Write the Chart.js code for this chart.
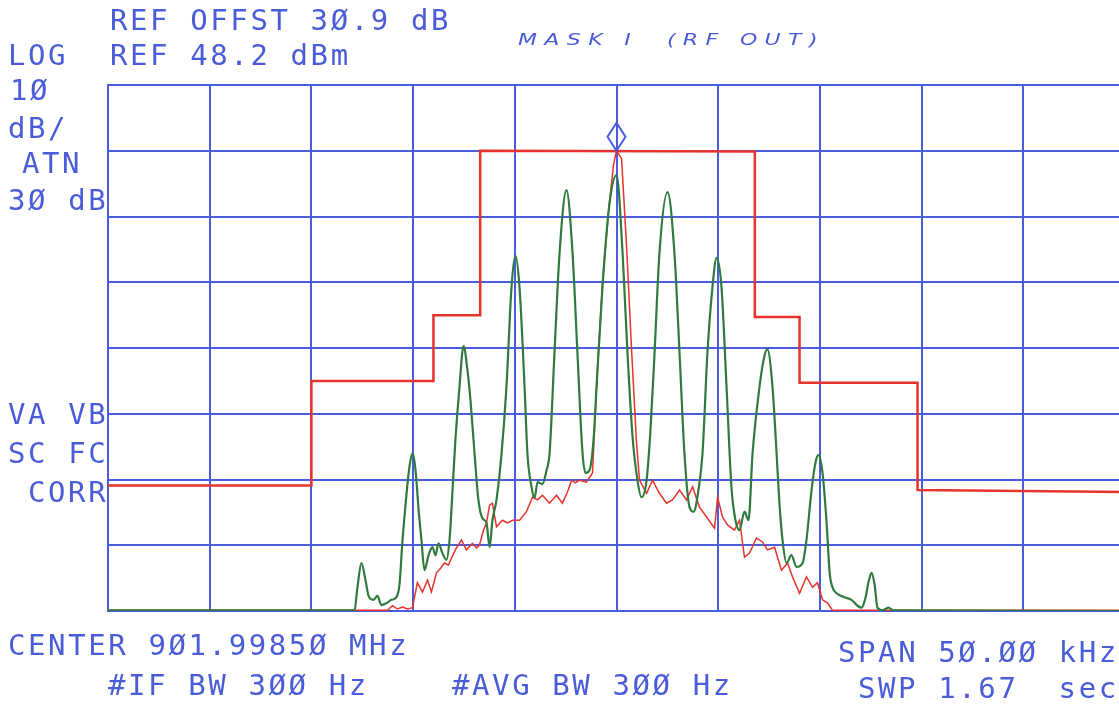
<!DOCTYPE html>
<html>
<head>
<meta charset="utf-8">
<title>MASK I (RF OUT)</title>
<script src="https://cdn.jsdelivr.net/npm/chart.js@4.4.1/dist/chart.umd.min.js"></script>
<style>
  html, body { margin: 0; padding: 0; background: #fff; overflow: hidden; }
  #wrap { position: relative; width: 1119px; height: 707px; overflow: hidden; background: #fff; }
  #chart { position: absolute; left: 0; top: 0; }
  .lbl {
    position: absolute;
    font-family: "DejaVu Sans Mono", monospace;
    font-size: 29px;
    line-height: 1;
    letter-spacing: 2.6px;
    color: #4a5cd8;
    white-space: pre;
  }
  .note {
    position: absolute;
    left: 518px;
    top: 30px;
    font-family: "DejaVu Sans", sans-serif;
    font-style: italic;
    font-size: 21px;
    line-height: 1;
    letter-spacing: 7px;
    color: #4a5cd8;
    white-space: pre;
    transform-origin: left center;
    transform: scale(1.05, 0.72);
  }
</style>
</head>
<body>
<div id="wrap">
  <canvas id="chart" width="1140" height="707"></canvas>

  <div class="lbl" style="left:110px; top:6px">REF OFFST 3Ø.9 dB</div>
  <div class="lbl" style="left:8px; top:41px">LOG</div>
  <div class="lbl" style="left:110px; top:41px">REF 48.2 dBm</div>
  <div class="lbl" style="left:10px; top:76px">1Ø</div>
  <div class="lbl" style="left:8px; top:114px">dB/</div>
  <div class="lbl" style="left:22px; top:149px">ATN</div>
  <div class="lbl" style="left:8px; top:186px">3Ø dB</div>
  <div class="lbl" style="left:8px; top:400px">VA VB</div>
  <div class="lbl" style="left:8px; top:439px">SC FC</div>
  <div class="lbl" style="left:28px; top:478px">CORR</div>
  <div class="lbl" style="left:8px; top:631px">CENTER 9Ø1.9985Ø MHz</div>
  <div class="lbl" style="left:108px; top:671px">#IF BW 3ØØ Hz</div>
  <div class="lbl" style="left:452px; top:671px">#AVG BW 3ØØ Hz</div>
  <div class="lbl" style="left:838px; top:638px">SPAN 5Ø.ØØ kHz</div>
  <div class="lbl" style="left:858px; top:674px">SWP 1.67  sec</div>
  <div class="note">MASK I  (RF OUT)</div>
</div>

<script>
// display settings of the analyzer
const refLevel = 48.2;   // dBm at top graticule
const dbPerDiv = 10;
const vertDivs = 8;
const spanKHz = 50;
const horizDivs = 10;

// emission mask (kHz offset from center, dBm)
const maskFreq = [-25, -15, -15, -9, -9, -6.7, -6.7, 6.8, 6.8, 9, 9, 14.8, 14.8, 25];
const maskLevel = [-12.7, -12.7, 3.2, 3.2, 13.2, 13.2, 38.2, 38.1, 12.9, 12.9, 2.9, 2.9, -13.4, -13.7];

// trace A: modulated carrier (red, noisy skirt)
const redFreq = [-25, -11.26, -11.01, -10.77, -10.52, -10.28, -10.03, -9.79, -9.54, -9.29,
  -9.10, -8.85, -8.65, -8.46, -8.26, -8.11, -7.87, -7.62, -7.38, -7.08,
  -6.88, -6.74, -6.54, -6.39, -6.24, -6.10, -5.90, -5.61, -5.36, -5.11,
  -4.77, -4.43, -4.13, -3.88, -3.64, -3.29, -2.95, -2.66, -2.41, -2.21,
  -2.02, -1.82, -1.48, -1.28, -1.18, -0.98, -0.69, -0.39, -0.15, 0,
  0.25, 0.49, 0.74, 0.98, 1.13, 1.48, 1.77, 2.11, 2.46, 2.75,
  3.10, 3.44, 3.74, 4.08, 4.43, 4.82, 4.97, 5.21, 5.46, 5.80,
  6.05, 6.29, 6.54, 6.88, 7.18, 7.42, 7.77, 8.11, 8.41, 8.65,
  9.00, 9.34, 9.64, 9.88, 10.13, 10.38, 10.62, 25];
const redLevel = [-31.7, -31.7, -31.0, -31.5, -31.2, -31.5, -31.3, -27.5, -28.9, -27.1,
  -28.9, -26.0, -25.3, -24.5, -24.8, -23.7, -22.2, -21.0, -22.5, -21.5,
  -22.2, -21.8, -19.5, -18.4, -15.7, -15.4, -19.0, -18.0, -18.4, -18.0,
  -18.0, -16.7, -14.5, -14.9, -14.2, -15.4, -14.2, -15.4, -13.7, -11.9,
  -12.3, -11.9, -12.2, -11.3, -10.8, 2.5, 18.0, 29.0, 36.0, 38.2,
  37.0, 24.0, 8.0, -6.0, -11.9, -13.9, -11.9, -13.9, -15.4, -14.9,
  -13.4, -14.9, -12.9, -16.0, -17.5, -19.2, -14.5, -17.5, -18.7, -19.5,
  -18.0, -23.6, -23.0, -20.7, -21.3, -22.5, -22.1, -25.6, -24.5, -26.6,
  -29.1, -26.6, -28.2, -27.5, -30.1, -30.6, -31.7, -31.7];

// trace B: comb of discrete lines (green)
const greenFreq = [-25, -12.88, -12.74, -12.54, -12.34, -12.19, -11.95, -11.75, -11.56, -11.31,
  -11.06, -10.82, -10.67, -10.52, -10.33, -10.18, -10.03, -9.88, -9.73, -9.59,
  -9.44, -9.24, -9.05, -8.90, -8.75, -8.56, -8.36, -8.21, -8.06, -7.92,
  -7.72, -7.52, -7.33, -7.18, -6.98, -6.79, -6.59, -6.39, -6.24, -6.10,
  -5.90, -5.65, -5.41, -5.16, -4.97, -4.77, -4.52, -4.38, -4.18, -4.03,
  -3.88, -3.64, -3.44, -3.29, -3.05, -2.80, -2.46, -2.16, -1.92, -1.67,
  -1.52, -1.33, -1.13, -0.98, -0.69, -0.34, 0, 0.30, 0.54, 0.79,
  1.03, 1.23, 1.48, 1.67, 1.87, 2.11, 2.51, 2.85, 3.10, 3.34,
  3.59, 3.79, 4.03, 4.23, 4.47, 4.72, 4.92, 5.16, 5.41, 5.65,
  5.85, 6.05, 6.29, 6.49, 6.69, 7.03, 7.28, 7.42, 7.67, 7.87,
  8.01, 8.16, 8.36, 8.60, 8.85, 9.15, 9.34, 9.59, 9.79, 9.93,
  10.13, 10.33, 10.48, 10.62, 10.82, 11.21, 11.55, 11.85, 12.05, 12.24,
  12.39, 12.54, 12.69, 12.83, 13.08, 13.37, 13.62, 25];
const greenLevel = [-31.7, -31.7, -28.3, -24.5, -27.1, -29.5, -30.1, -29.5, -30.9, -30.6,
  -30.1, -29.7, -27.8, -21.0, -14.2, -9.9, -7.8, -10.4, -16.4, -21.0,
  -25.6, -23.3, -22.1, -23.3, -21.5, -23.0, -24.0, -21.0, -13.4, -5.8,
  2.3, 8.5, 4.9, 0.3, -7.8, -14.9, -17.7, -18.4, -22.1, -18.0,
  -14.9, -7.8, 2.3, 17.5, 22.2, 17.5, 2.3, -7.8, -12.9, -14.6,
  -12.2, -12.5, -10.4, -7.8, 7.4, 22.6, 32.2, 22.6, 7.4, -7.8,
  -10.8, -10.4, -5.8, 2.3, 17.5, 30.3, 34.5, 22.6, 7.4, -5.3,
  -11.9, -14.5, -11.9, -4.3, 7.4, 22.6, 31.9, 22.6, 7.4, -7.8,
  -16.0, -16.7, -13.4, -7.8, 7.4, 17.5, 21.9, 17.5, 2.3, -12.9,
  -18.0, -19.5, -16.7, -18.0, -7.8, 2.3, 7.1, 8.0, 2.3, -7.8,
  -15.4, -21.0, -24.5, -23.3, -25.1, -24.5, -21.0, -13.4, -9.1, -8.1,
  -10.8, -18.4, -26.0, -28.2, -29.1, -29.7, -30.1, -31.0, -31.3, -29.8,
  -27.4, -26.0, -27.8, -31.3, -31.7, -31.3, -31.7, -31.8];

// marker on the carrier peak
const markerFreq = 0;
const markerLevel = 38.2;

const penBlue = "#4a5ce0";
const penRed = "#e8322c";
const penGreen = "#2f7a3c";

function toPoints(xs, ys) {
  return xs.map((x, i) => ({ x: x, y: ys[i] }));
}

// graticule lines every division, from the bottom edge up to the ref level
const bottomLevel = refLevel - dbPerDiv * vertDivs;
const levelTicks = [];
for (let i = 0; i <= vertDivs; i++) levelTicks.push(bottomLevel + i * dbPerDiv);

// diamond marker drawn above the marked point
const markerPlugin = {
  id: "markerDiamond",
  afterDatasetsDraw(chart) {
    const { ctx, scales } = chart;
    const px = scales.x.getPixelForValue(markerFreq);
    const py = scales.y.getPixelForValue(markerLevel);
    ctx.save();
    ctx.strokeStyle = penBlue;
    ctx.lineWidth = 2;
    ctx.beginPath();
    ctx.moveTo(px, py);
    ctx.lineTo(px + 9, py - 14);
    ctx.lineTo(px, py - 28);
    ctx.lineTo(px - 9, py - 14);
    ctx.closePath();
    ctx.stroke();
    ctx.restore();
  },
};

function renderSpectrum(canvas) {
  return new Chart(canvas.getContext("2d"), {
    type: "line",
    data: {
      datasets: [
        {
          data: toPoints(greenFreq, greenLevel),
          borderColor: penGreen,
          borderWidth: 2.2,
          pointRadius: 0,
          cubicInterpolationMode: "monotone",
        },
        {
          data: toPoints(redFreq, redLevel),
          borderColor: penRed,
          borderWidth: 1.5,
          pointRadius: 0,
          tension: 0,
        },
        {
          data: toPoints(maskFreq, maskLevel),
          borderColor: penRed,
          borderWidth: 2.5,
          pointRadius: 0,
          tension: 0,
        },
      ],
    },
    options: {
      responsive: false,
      animation: false,
      layout: { padding: { left: 108, top: 85, right: 15, bottom: 96 } },
      plugins: { legend: { display: false }, tooltip: { enabled: false } },
      scales: {
        x: {
          type: "linear",
          min: -spanKHz / 2,
          max: spanKHz / 2,
          ticks: { display: false, stepSize: spanKHz / horizDivs },
          grid: { color: penBlue, lineWidth: 2, drawTicks: false },
          border: { color: penBlue, width: 2 },
        },
        y: {
          min: bottomLevel,
          max: refLevel,
          afterBuildTicks: (scale) => {
            scale.ticks = levelTicks.map((v) => ({ value: v }));
          },
          ticks: { display: false },
          grid: { color: penBlue, lineWidth: 2, drawTicks: false },
          border: { color: penBlue, width: 2 },
        },
      },
    },
    plugins: [markerPlugin],
  });
}

renderSpectrum(document.getElementById("chart"));
</script>
</body>
</html>
